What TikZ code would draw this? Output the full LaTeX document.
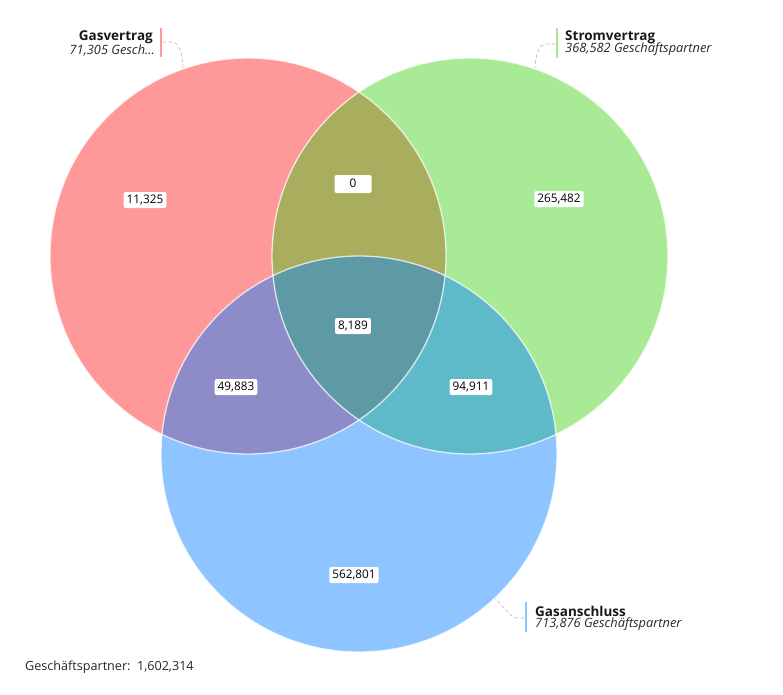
\documentclass[tikz,border=0pt]{standalone}
\usepackage{fontspec}
\setmainfont{Open Sans}
\usepackage{xcolor}
\usetikzlibrary{positioning}

\definecolor{gasred}{RGB}{255,153,153}
\definecolor{stromgreen}{RGB}{168,234,150}
\definecolor{anschlussblue}{RGB}{142,196,255}
\definecolor{redgreen}{RGB}{168,174,94}
\definecolor{redblue}{RGB}{142,140,200}
\definecolor{greenblue}{RGB}{94,185,200}
\definecolor{allthree}{RGB}{94,154,166}
\definecolor{leadergray}{RGB}{185,185,185}

\tikzset{
  count/.style={fill=white, rounded corners=2pt, inner xsep=3pt, inner ysep=2.5pt,
    text height=8.5pt, text depth=2.5pt, font=\fontsize{11.8}{13}\selectfont, text=black},
  settitle/.style={inner sep=0pt, font=\fontsize{13.5}{15}\selectfont\bfseries, text=black!90},
  setsub/.style={inner sep=0pt, font=\fontsize{12.8}{14}\selectfont\itshape, text=black!85},
  leader/.style={draw=leadergray, dashed, line width=0.7pt},
  legendbar/.style={line width=2.5pt, line cap=butt},
  rim/.style={draw=white, draw opacity=0.75, line width=1.3pt}
}

\begin{document}
\begin{tikzpicture}[x=1pt, y=-1pt, line join=round, line cap=round]

    \useasboundingbox (0,0) rectangle (783,694);

    % circle centres
    \coordinate (gasC) at (248,256);
    \coordinate (stromC) at (470,256);
    \coordinate (anschlussC) at (359,454);

    % plain circles
    \fill[gasred] (gasC) circle[radius=198pt];
    \fill[stromgreen] (stromC) circle[radius=198pt];
    \fill[anschlussblue] (anschlussC) circle[radius=198pt];

    % overlaps with the red circle
    \begin{scope}
      \clip (gasC) circle[radius=198pt];
      \fill[redgreen] (stromC) circle[radius=198pt];
      \fill[redblue] (anschlussC) circle[radius=198pt];
    \end{scope}

    % green and blue overlap
    \begin{scope}
      \clip (stromC) circle[radius=198pt];
      \fill[greenblue] (anschlussC) circle[radius=198pt];
    \end{scope}

    % all three
    \begin{scope}
      \clip (gasC) circle[radius=198pt];
      \clip (stromC) circle[radius=198pt];
      \fill[allthree] (anschlussC) circle[radius=198pt];
    \end{scope}

    % white rims
    \draw[rim] (gasC) circle[radius=198pt];
    \draw[rim] (stromC) circle[radius=198pt];
    \draw[rim] (anschlussC) circle[radius=198pt];

    % counts
    \node[count] (onlygas) at (145,200) {11,325};
    \node[count, minimum width=37pt, minimum height=18pt] (gasstrom) at (353,184) {0};
    \node[count] (onlystrom) at (559,199) {265,482};
    \node[count] (center) at (353,326) {8,189};
    \node[count] (gasanschluss) at (236,387) {49,883};
    \node[count] (stromanschluss) at (471,387) {94,911};
    \node[count] (onlyanschluss) at (354,575) {562,801};

    % legend Gasvertrag
    \node[settitle, anchor=east] (gastitle) at (153,37) {Gasvertrag};
    \node[setsub, anchor=east] (gassub) at (155,50) {71,305 Gesch...};
    \draw[legendbar, gasred] (161,28) -- (161,57);
    \coordinate (gasbar) at (163,42);
    \coordinate (gastip) at (183,68);
    \draw[leader] (gasbar) -- ++(8,0) .. controls +(9,0) and +(-1,-14) .. (gastip);

    % legend Stromvertrag
    \node[settitle, anchor=west] (stromtitle) at (565,37) {Stromvertrag};
    \node[setsub, anchor=west] (stromsub) at (565,49) {368,582 Geschäftspartner};
    \draw[legendbar, stromgreen] (557,28) -- (557,58);
    \coordinate (strombar) at (555,44);
    \coordinate (stromtip) at (535,68);
    \draw[leader] (strombar) -- ++(-8,0) .. controls +(-9,0) and +(1,-14) .. (stromtip);

    % legend Gasanschluss
    \node[settitle, anchor=west] (anschlusstitle) at (535,611) {Gasanschluss};
    \node[setsub, anchor=west] (anschlusssub) at (535,624) {713,876 Geschäftspartner};
    \draw[legendbar, anschlussblue] (526,602) -- (526,632);
    \coordinate (anschlussbar) at (524,618);
    \coordinate (anschlusstip) at (495,598);
    \draw[leader] (anschlussbar) -- ++(-6,0) .. controls +(-8,0) and +(8,8) .. (anschlusstip);

    % total
    \node[anchor=west, inner sep=0pt, font=\fontsize{12.6}{14}\selectfont, text=black!85]
      (total) at (25,667) {Geschäftspartner:\ \ 1,602,314};

\end{tikzpicture}
\end{document}
